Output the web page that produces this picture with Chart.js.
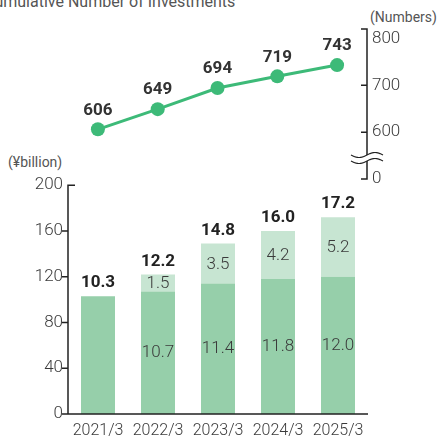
<!DOCTYPE html>
<html><head><meta charset="utf-8">
<script src="https://cdn.jsdelivr.net/npm/chart.js@4/dist/chart.umd.min.js"></script>
<style>
html,body{margin:0;padding:0;background:#fff;}
body{width:442px;height:437px;position:relative;overflow:hidden;font-family:Roboto,sans-serif;}
.t{position:absolute;white-space:nowrap;color:#555;}
#c1{position:absolute;left:0;top:0;}
#c2{position:absolute;left:0;top:170px;}
</style></head><body>
<div class="t" id="title" style="left:-16px;top:-6px;font-size:16px;line-height:16px;">Cumulative Number of Investments</div>
<div class="t" style="left:370px;top:9px;font-size:14px;line-height:16px;">(Numbers)</div>
<div class="t" style="left:8px;top:154px;font-size:14px;line-height:16px;">(¥billion)</div>
<canvas id="c1" width="442" height="200" style="width:442px;height:200px"></canvas>
<canvas id="c2" width="442" height="267" style="width:442px;height:267px"></canvas>
<script>
const categories = ['2021/3','2022/3','2023/3','2024/3','2025/3'];
const investmentCounts = [606, 649, 694, 719, 743];
const baseAmounts = [10.3, 10.7, 11.4, 11.8, 12.0];
const addedAmounts = [null, 1.5, 3.5, 4.2, 5.2];
const totalAmounts = [10.3, 12.2, 14.8, 16.0, 17.2];
const countTickValues = [500, 600, 700, 800];
const countTickLabels = ['0', '600', '700', '800'];
const amountTickLabels = ['0', '40', '80', '120', '160', '200'];

const FONT = 'Roboto, sans-serif';
const AXIS = '#222';
const TICK = '#3a3a3a';

function wave(ctx, x, y, hw, amp) {
  ctx.beginPath();
  for (let t = -hw; t <= hw; t += 0.5) {
    const yy = y - amp * Math.sin(Math.PI * t / hw);
    if (t === -hw) ctx.moveTo(x + t, yy); else ctx.lineTo(x + t, yy);
  }
  ctx.stroke();
}

const topPlugin = {
  id: 'topDecor',
  afterDraw(chart) {
    const ctx = chart.ctx, ys = chart.scales.y, ca = chart.chartArea;
    const x = ca.right;
    const y0 = ys.getPixelForValue(countTickValues[0]);
    const bTop = y0 - 24, bBot = y0 - 18;
    ctx.save();
    ctx.strokeStyle = AXIS; ctx.lineWidth = 1.5;
    ctx.beginPath();
    ctx.moveTo(x - 6, ca.top); ctx.lineTo(x, ca.top); ctx.lineTo(x, bTop);
    ctx.moveTo(x, bBot); ctx.lineTo(x, y0); ctx.lineTo(x - 6, y0);
    countTickValues.slice(1, 3).forEach(v => {
      const y = ys.getPixelForValue(v);
      ctx.moveTo(x - 6, y); ctx.lineTo(x, y);
    });
    ctx.stroke();
    ctx.lineWidth = 1.2;
    wave(ctx, x, bTop, 16, 2.5);
    wave(ctx, x, bBot, 16, 2.5);
    const meta = chart.getDatasetMeta(0);
    ctx.fillStyle = '#333';
    ctx.font = 'bold 17px ' + FONT;
    ctx.textAlign = 'center'; ctx.textBaseline = 'middle';
    meta.data.forEach((p, i) => {
      ctx.fillText(String(investmentCounts[i]), p.x, p.y - 19);
    });
    ctx.restore();
  }
};

new Chart(document.getElementById('c1'), {
  type: 'line',
  data: {
    labels: categories,
    datasets: [{
      data: investmentCounts,
      borderColor: '#3dba78', backgroundColor: '#3dba78',
      borderWidth: 3, pointRadius: 7, pointBorderWidth: 0,
      pointBackgroundColor: '#3dba78', tension: 0
    }]
  },
  options: {
    responsive: false, animation: false,
    layout: { padding: { left: 68, top: 29, bottom: 21, right: 0 } },
    plugins: { legend: { display: false }, tooltip: { enabled: false } },
    scales: {
      x: { display: false, offset: true },
      y: {
        position: 'right', min: 500, max: 820,
        afterBuildTicks: s => { s.ticks = countTickValues.map(v => ({ value: v })); },
        afterFit: s => { s.width = 75; },
        grid: { display: false, drawTicks: false },
        border: { display: false },
        ticks: { padding: 5, color: TICK, font: { family: FONT, size: 17, weight: 300 },
          callback: (v, i) => countTickLabels[i] }
      }
    }
  },
  plugins: [topPlugin]
});

const barPlugin = {
  id: 'barDecor',
  afterDraw(chart) {
    const ctx = chart.ctx, ys = chart.scales.y, ca = chart.chartArea;
    ctx.save();
    ctx.strokeStyle = AXIS; ctx.lineWidth = 1.5;
    ctx.beginPath();
    ctx.moveTo(ca.left + 7, ca.top); ctx.lineTo(ca.left, ca.top); ctx.lineTo(ca.left, ca.bottom);
    ctx.lineTo(ca.right, ca.bottom);
    ys.ticks.forEach(t => {
      if (t.value >= ys.max) return;
      const y = ys.getPixelForValue(t.value);
      ctx.moveTo(ca.left - 6, y); ctx.lineTo(ca.left, y);
    });
    ctx.stroke();
    const m0 = chart.getDatasetMeta(0), m1 = chart.getDatasetMeta(1);
    ctx.textAlign = 'center'; ctx.textBaseline = 'middle';
    ctx.fillStyle = '#3a3a3a';
    ctx.font = '300 17px ' + FONT;
    categories.forEach((c, i) => {
      if (addedAmounts[i] == null) return;
      const b = m0.data[i];
      ctx.fillText(baseAmounts[i].toFixed(1), b.x, (b.y + b.base) / 2);
      const a = m1.data[i];
      ctx.fillText(addedAmounts[i].toFixed(1), a.x, (a.y + a.base) / 2 + 1);
    });
    ctx.fillStyle = '#222';
    ctx.font = 'bold 17px ' + FONT;
    categories.forEach((c, i) => {
      const top = addedAmounts[i] == null ? m0.data[i].y : m1.data[i].y;
      ctx.fillText(totalAmounts[i].toFixed(1), m0.data[i].x, top - 13);
    });
    ctx.restore();
  }
};

new Chart(document.getElementById('c2'), {
  type: 'bar',
  data: {
    labels: categories,
    datasets: [
      { data: baseAmounts, backgroundColor: '#96cfaa', stack: 's', barPercentage: 34 / 60, categoryPercentage: 1 },
      { data: addedAmounts, backgroundColor: '#c7e5d2', stack: 's', barPercentage: 34 / 60, categoryPercentage: 1 }
    ]
  },
  options: {
    responsive: false, animation: false,
    layout: { padding: { left: 0, right: 74, top: 12, bottom: 0 } },
    plugins: { legend: { display: false }, tooltip: { enabled: false } },
    scales: {
      x: {
        stacked: true,
        grid: { display: false, drawTicks: false }, border: { display: false },
        ticks: { padding: 7, color: TICK, font: { family: FONT, size: 16, weight: 300 } },
        afterFit: s => { s.height = 23; }
      },
      y: {
        stacked: true, min: 0, max: 20,
        grid: { display: false, drawTicks: false }, border: { display: false },
        ticks: { stepSize: 4, padding: 5, color: TICK, font: { family: FONT, size: 17, weight: 300 },
          callback: (v, i) => amountTickLabels[i] },
        afterFit: s => { s.width = 68; }
      }
    }
  },
  plugins: [barPlugin]
});
</script>
</body></html>
